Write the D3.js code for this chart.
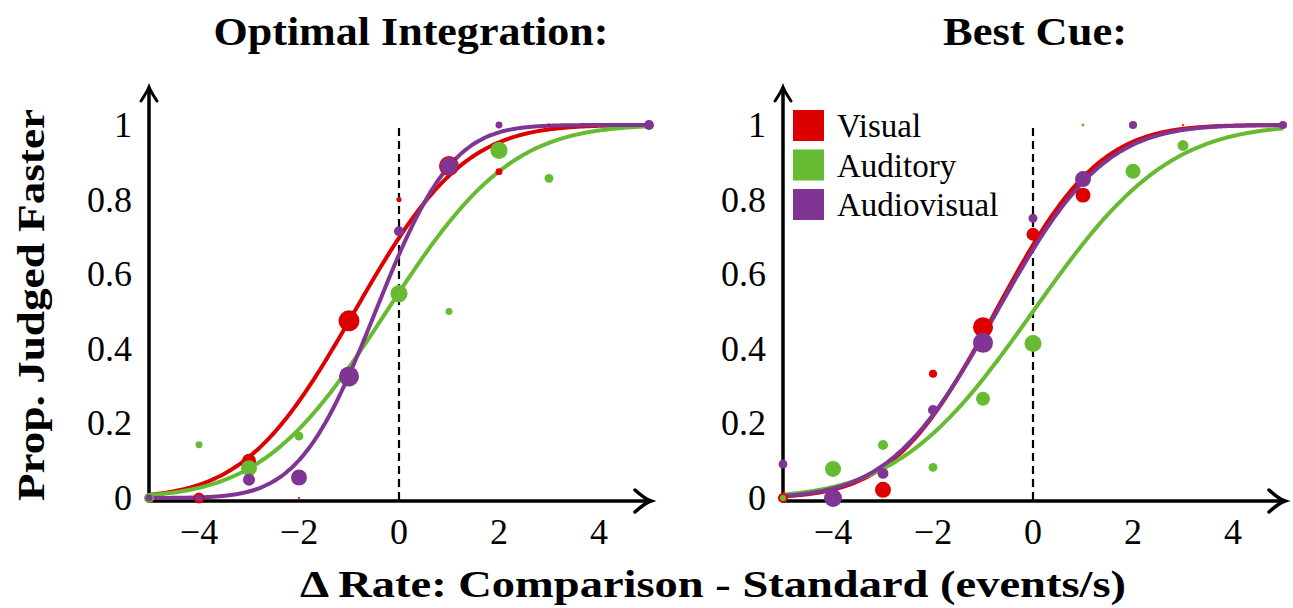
<!DOCTYPE html>
<html><head><meta charset="utf-8">
<script src="https://cdn.jsdelivr.net/npm/d3@7"></script>
<style>
html,body{margin:0;padding:0;background:#fff;}
text{font-family:"Liberation Serif","DejaVu Serif",serif;}
</style></head>
<body>
<svg id="chart" width="1293" height="608"></svg>
<script>
// ---------- data ----------
const levels = [-5,-4,-3,-2,-1,0,1,2,3,4,5];
const xTicks = [-4,-2,0,2,4];
const yTicks = [0,0.2,0.4,0.6,0.8,1];
const yTickLabels = ["0","0.2","0.4","0.6","0.8","1"];
const seriesNames = ["Visual","Auditory","Audiovisual"];
const panelTitles = ["Optimal Integration:","Best Cue:"];

// proportions judged faster (null = no visible point)
const leftVisual      = [null,0.0,0.10,0.0,0.475,0.80,0.89,0.875,1.0,null,null];
const leftVisualN     = [0,27,44,1,100,6,91,11,2,0,0];
const leftAuditory    = [0.0,0.143,0.08,0.166,null,0.548,0.50,0.932,0.857,null,null];
const leftAuditoryN   = [23,11,58,18,0,66,11,66,18,0,0];
const leftAV          = [0.0,0.0,0.049,0.055,0.326,0.715,0.89,1.0,null,null,1.0];
const leftAVN         = [11,11,33,58,91,23,73,11,0,0,23];

const rightVisual     = [0.0,null,0.022,0.333,0.458,0.707,0.812,null,1.0,null,null];
const rightVisualN    = [23,0,58,15,91,38,51,0,1,0,0];
const rightAuditory   = [0.0,0.078,0.142,0.082,0.266,0.414,1.0,0.876,0.945,null,null];
const rightAuditoryN  = [8,58,23,18,44,66,2,51,27,0,0];
const rightAV         = [0.091,0.0,0.066,0.236,0.416,0.75,0.855,1.0,null,null,1.0];
const rightAVN        = [18,73,27,23,91,18,58,15,0,0,15];

// cumulative-Gaussian fits: [mu, sigma] per series
const leftFitMu     = [-0.89,-0.25,-0.47];
const leftFitSigma  = [1.72,1.95,1.20];
const rightFitMu    = [-0.75,0.0,-0.72];
const rightFitSigma = [1.62,2.12,1.68];

// ---------- rendering ----------
const colors = ["#dd0000","#66bb33","#803594"];
const svg = d3.select("#chart");

function erf(x){
  const s = x<0?-1:1; x=Math.abs(x);
  const t=1/(1+0.3275911*x);
  const y=1-(((((1.061405429*t-1.453152027)*t)+1.421413741)*t-0.284496736)*t+0.254829592)*t*Math.exp(-x*x);
  return s*y;
}
const phi = (x,mu,s)=>0.5*(1+erf((x-mu)/(s*Math.SQRT2)));

const rScale = d3.scaleSqrt().domain([0,100]).range([0,10.5]);

const panels = [
  {x0:149, title:panelTitles[0], titleX:411, titleW:395,
   ys:[leftVisual,leftAuditory,leftAV], ns:[leftVisualN,leftAuditoryN,leftAVN],
   mu:leftFitMu, sg:leftFitSigma, legend:false},
  {x0:783, title:panelTitles[1], titleX:1035, titleW:184,
   ys:[rightVisual,rightAuditory,rightAV], ns:[rightVisualN,rightAuditoryN,rightAVN],
   mu:rightFitMu, sg:rightFitSigma, legend:true}
];

const yScale = d3.scaleLinear().domain([0,1]).range([498,125]);
const axisY = 501;

panels.forEach(p=>{
  const x = d3.scaleLinear().domain([-5,5]).range([p.x0,p.x0+500]);
  const g = svg.append("g");

  // title
  g.append("text").attr("x",p.titleX).attr("y",45).attr("text-anchor","middle")
   .attr("font-size",40).attr("font-weight","bold")
   .attr("textLength",p.titleW).attr("lengthAdjust","spacingAndGlyphs").text(p.title);

  // dashed line at 0
  g.append("line").attr("x1",x(0)).attr("x2",x(0)).attr("y1",yScale(1)+3).attr("y2",axisY)
   .attr("stroke","#000").attr("stroke-width",2.2).attr("stroke-dasharray","8,5");

  // axes
  g.append("line").attr("x1",x(-5)).attr("x2",x(5)).attr("y1",axisY).attr("y2",axisY)
   .attr("stroke","#000").attr("stroke-width",3.5);
  g.append("line").attr("x1",x(-5)).attr("x2",x(-5)).attr("y1",axisY+1.75).attr("y2",88)
   .attr("stroke","#000").attr("stroke-width",3.5);
  // arrowheads
  const tx=x(5)+2, ty=axisY;
  g.append("path").attr("d",`M${tx-16},${ty-11} Q${tx-6},${ty-2} ${tx},${ty} Q${tx-6},${ty+2} ${tx-16},${ty+11}`)
   .attr("fill","none").attr("stroke","#000").attr("stroke-width",3.5).attr("stroke-linecap","round");
  const ax=x(-5), ay=87;
  g.append("path").attr("d",`M${ax-8},${ay+14} Q${ax-2},${ay+5} ${ax},${ay} Q${ax+2},${ay+5} ${ax+8},${ay+14}`)
   .attr("fill","none").attr("stroke","#000").attr("stroke-width",3).attr("stroke-linecap","round");

  // tick labels
  g.selectAll(".xt").data(xTicks).enter().append("text")
   .attr("x",d=>x(d)).attr("y",544).attr("text-anchor","middle").attr("font-size",36)
   .text(d=>d<0?"\u2212"+Math.abs(d):String(d));
  g.selectAll(".yt").data(yTicks).enter().append("text")
   .attr("x",p.x0-17).attr("y",d=>yScale(d)+12).attr("text-anchor","end").attr("font-size",36)
   .text((d,i)=>yTickLabels[i]);

  // curves and points: red, green, purple
  const xs = d3.range(-5,5.0001,0.05);
  for(let s=0;s<3;s++){
    const line = d3.line().x(d=>x(d)).y(d=>yScale(phi(d,p.mu[s],p.sg[s]))).curve(d3.curveBasis);
    g.append("path").datum(xs).attr("d",line).attr("fill","none")
     .attr("stroke",colors[s]).attr("stroke-width",4);
  }
  for(let s=0;s<3;s++){
    const pts = levels.map((lv,i)=>({x:lv,y:p.ys[s][i],n:p.ns[s][i]})).filter(d=>d.y!==null);
    g.selectAll(".pt"+s).data(pts).enter().append("circle")
     .attr("cx",d=>x(d.x)).attr("cy",d=>yScale(d.y)).attr("r",d=>rScale(d.n))
     .attr("fill",colors[s]);
  }

  if(p.legend){
    seriesNames.forEach((nm,i)=>{
      g.append("rect").attr("x",793).attr("y",110+i*39.5).attr("width",31).attr("height",31)
       .attr("fill",colors[i]);
      g.append("text").attr("x",837).attr("y",137+i*39.5).attr("font-size",33).text(nm);
    });
  }
});

// shared axis labels
svg.append("text").attr("transform","translate(44,305) rotate(-90)").attr("text-anchor","middle")
 .attr("font-size",38).attr("font-weight","bold")
 .attr("textLength",392).attr("lengthAdjust","spacingAndGlyphs").text("Prop. Judged Faster");
svg.append("text").attr("x",713).attr("y",597).attr("text-anchor","middle")
 .attr("font-size",38).attr("font-weight","bold")
 .attr("textLength",826).attr("lengthAdjust","spacingAndGlyphs")
 .text("\u0394 Rate: Comparison - Standard (events/s)");
</script>
</body></html>
